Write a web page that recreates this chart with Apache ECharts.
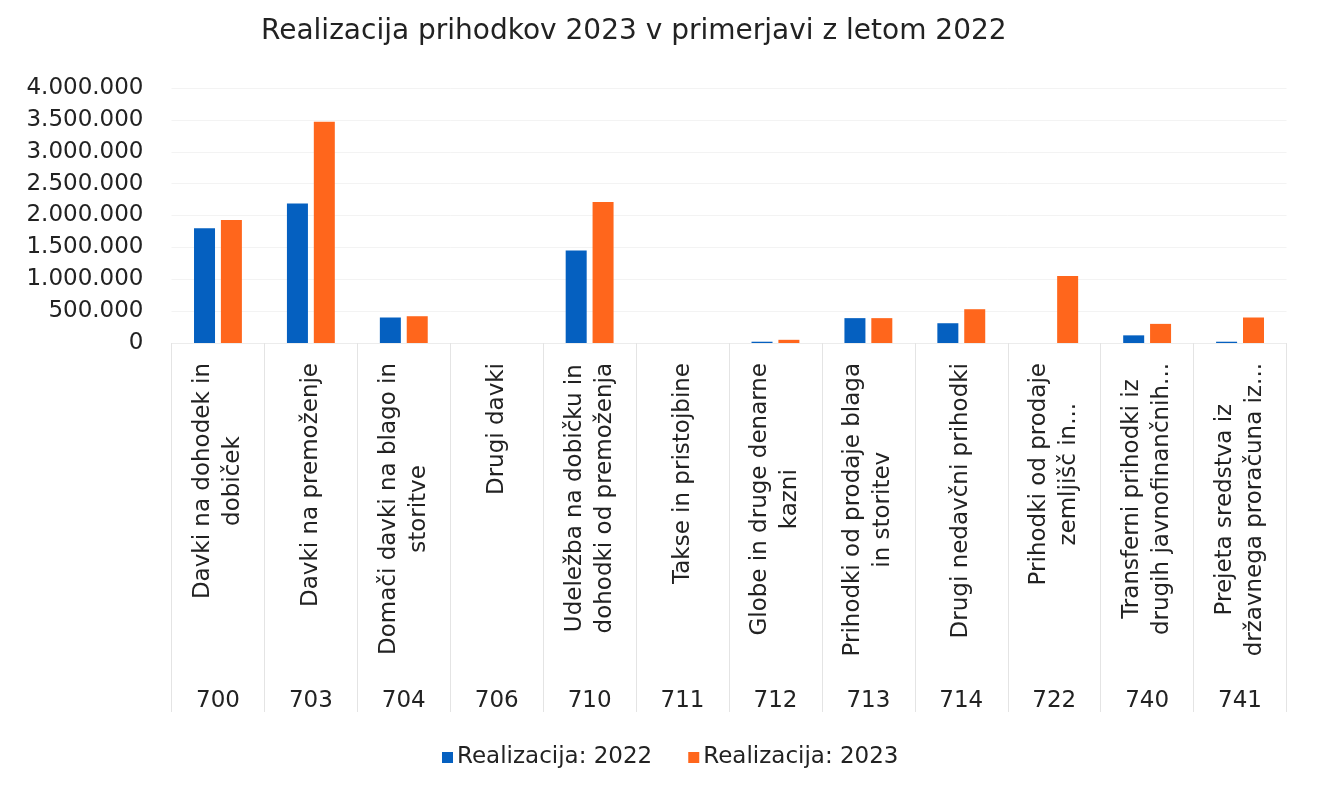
<!DOCTYPE html>
<html>
<head>
<meta charset="utf-8">
<script src="https://cdn.jsdelivr.net/npm/echarts@6/dist/echarts.min.js"></script>
<style>
    html, body { margin: 0; padding: 0; background: #fff; }
    #chart { width: 1319px; height: 790px; }
</style>
</head>
<body>
<div id="chart"></div>
<script>
const codes = ["700", "703", "704", "706", "710", "711", "712", "713", "714", "722", "740", "741"];
const names = [
    "Davki na dohodek in\ndobiček",
    "Davki na premoženje",
    "Domači davki na blago in\nstoritve",
    "Drugi davki",
    "Udeležba na dobičku in\ndohodki od premoženja",
    "Takse in pristojbine",
    "Globe in druge denarne\nkazni",
    "Prihodki od prodaje blaga\nin storitev",
    "Drugi nedavčni prihodki",
    "Prihodki od prodaje\nzemljišč in...",
    "Transferni prihodki iz\ndrugih javnofinančnih...",
    "Prejeta sredstva iz\ndržavnega proračuna iz...",
];
const real2022 = [1800000, 2190000, 400000, 0, 1450000, 0, 20000, 390000, 310000, 0, 120000, 20000];
const real2023 = [1930000, 3470000, 420000, 0, 2210000, 0, 50000, 390000, 530000, 1050000, 300000, 400000];
const seriesNames = ["Realizacija: 2022", "Realizacija: 2023"];

const font = "DejaVu Sans";
const txt = "#222";

const fmt = (v) => String(v).replace(/\B(?=(\d{3})+(?!\d))/g, ".");

const chart = echarts.init(document.getElementById("chart"));
chart.setOption({
    animation: false,
    backgroundColor: "#fff",
    title: {
        text: "Realizacija prihodkov 2023 v primerjavi z letom 2022",
        left: 256,
        top: 13,
        textStyle: { fontFamily: font, fontSize: 28, fontWeight: "normal", color: txt },
    },
    legend: {
        left: 437,
        top: 741,
        itemWidth: 11,
        itemHeight: 11,
        itemGap: 36,
        icon: "rect",
        textStyle: { fontFamily: font, fontSize: 23, color: txt, padding: [0, 0, 0, -1] },
        data: seriesNames,
    },
    grid: { left: 171.5, right: 32.5, top: 88, bottom: 447 },
    xAxis: [
        {
            type: "category",
            data: names,
            axisLine: { show: true, lineStyle: { color: "#ececec" } },
            axisTick: { show: true, length: 369, lineStyle: { color: "#e4e4e4" } },
            axisLabel: {
                interval: 0,
                rotate: 90,
                margin: 20,
                formatter: (v) => v.split("\n").map((s) => `{c|${s}}`).join("\n"),
                rich: {
                    c: { align: "center", fontFamily: font, fontSize: 23, lineHeight: 30, color: txt },
                },
            },
        },
        {
            type: "category",
            data: codes,
            position: "bottom",
            offset: 339,
            axisLine: { show: false },
            axisTick: { show: false },
            axisLabel: { interval: 0, margin: 8, fontFamily: font, fontSize: 23, color: txt },
        },
    ],
    yAxis: {
        type: "value",
        min: 0,
        max: 4000000,
        interval: 500000,
        axisLine: { show: false },
        axisTick: { show: false },
        splitLine: { lineStyle: { color: "#f3f3f3" } },
        axisLabel: { margin: 28, fontFamily: font, fontSize: 23, color: txt, formatter: fmt },
    },
    series: [
        {
            name: seriesNames[0],
            type: "bar",
            data: real2022,
            barWidth: 21,
            barGap: "28%",
            itemStyle: { color: "#0560c0" },
        },
        {
            name: seriesNames[1],
            type: "bar",
            data: real2023,
            barWidth: 21,
            itemStyle: { color: "#ff661c" },
        },
    ],
});
</script>
</body>
</html>
